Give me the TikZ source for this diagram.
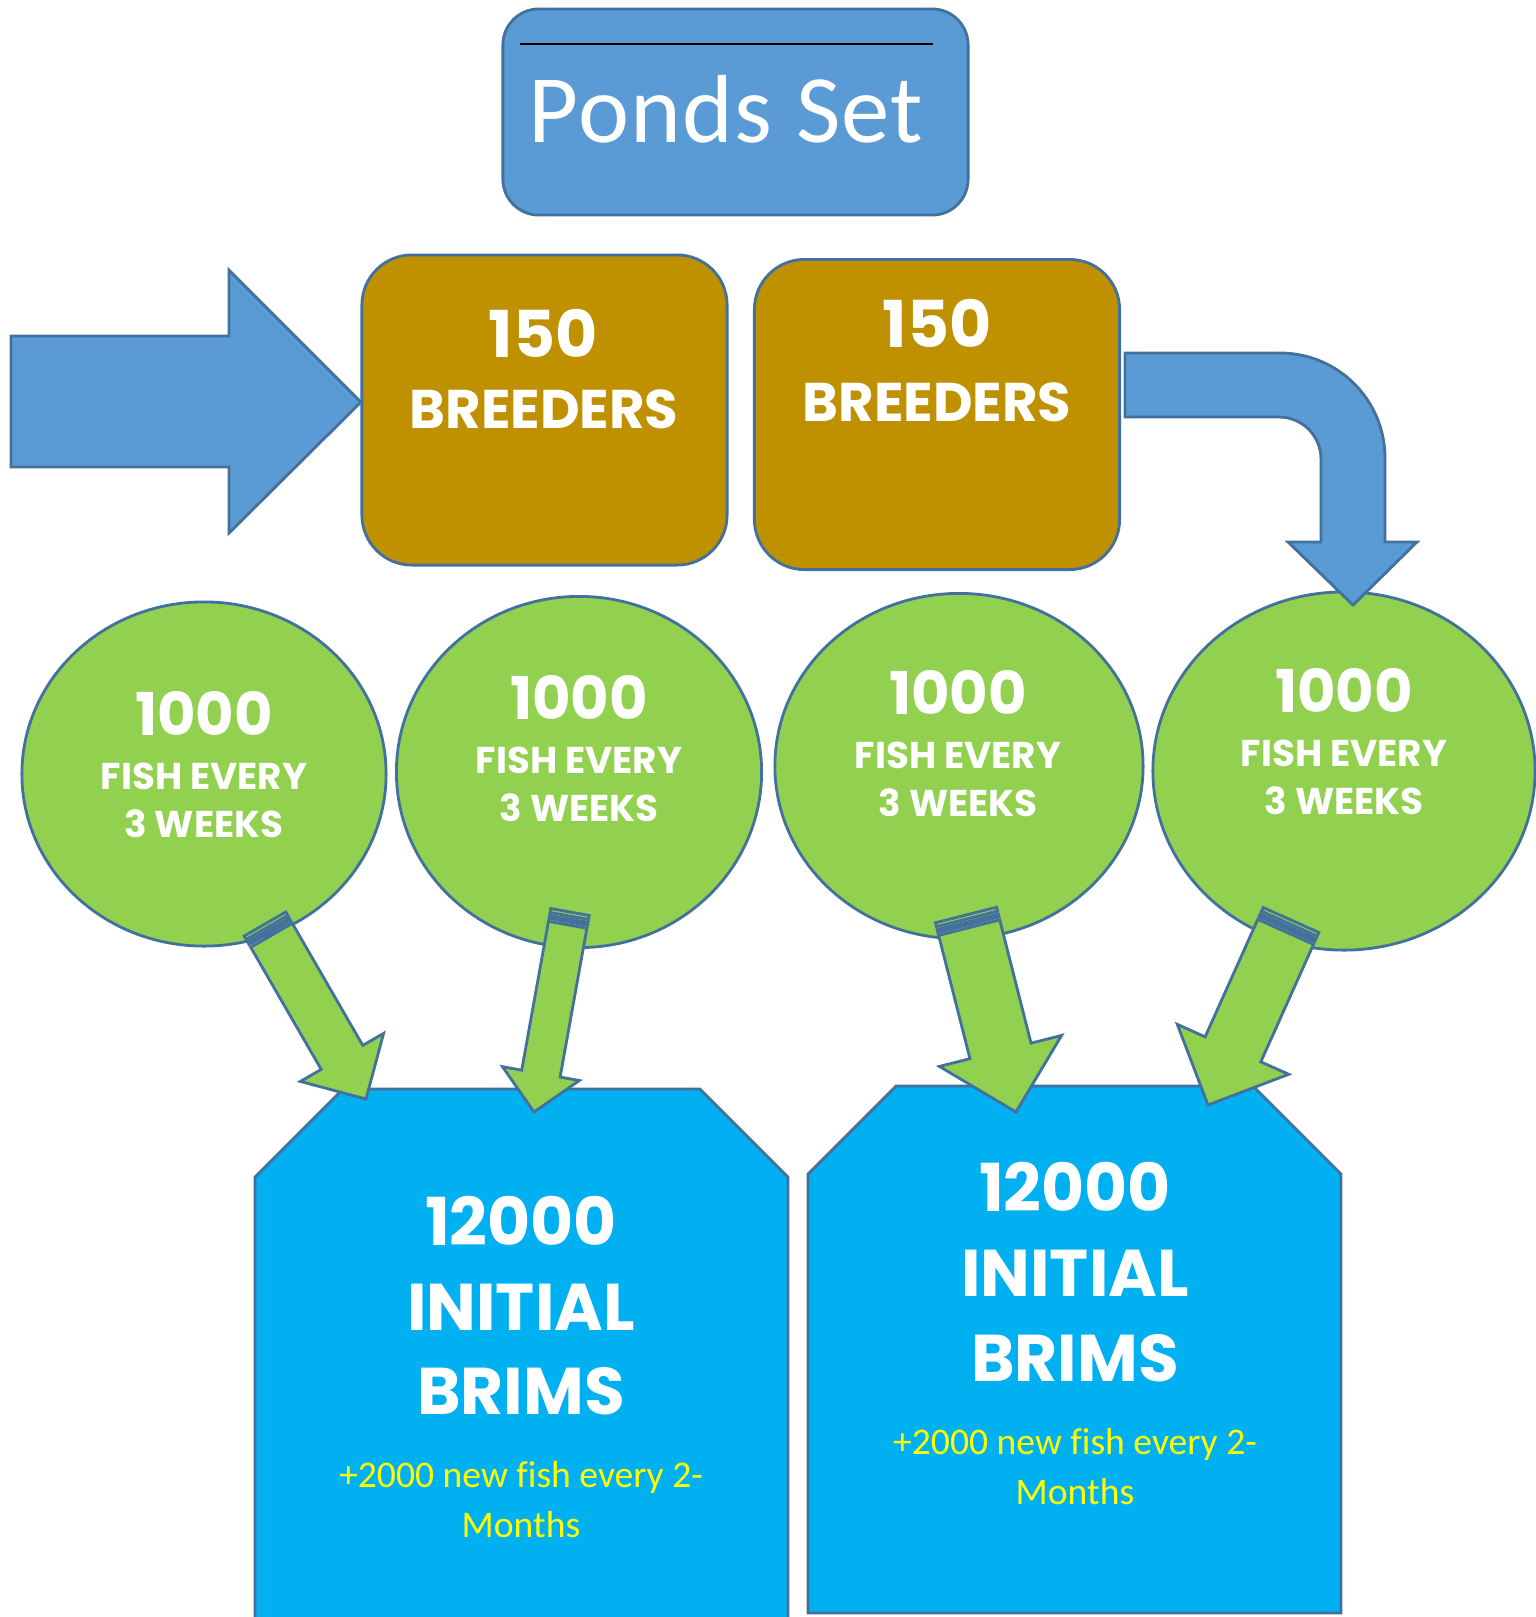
\documentclass[tikz,border=0pt]{standalone}
\usepackage{fontspec}
\usepackage{xcolor}
\usetikzlibrary{calc, shapes.geometric}
\newfontfamily\titlefont{Carlito}[LetterSpace=1.5]
\newfontfamily\notefont{Carlito}[Ligatures=NoCommon]
\newfontfamily\dispfont{Poppins}
\definecolor{pondblue}{HTML}{5B9BD5}
\definecolor{edgeblue}{HTML}{41719C}
\definecolor{breedgold}{HTML}{BF9000}
\definecolor{pondgreen}{HTML}{92D050}
\definecolor{brimcyan}{HTML}{00B0F0}
\definecolor{noteyellow}{HTML}{FFFF00}

\begin{document}
\begin{tikzpicture}[
  x=0.01cm, y=-0.01cm,
  outline/.style={draw=edgeblue, line width=0.8pt},
  titlebox/.style={outline, fill=pondblue, rounded corners=0.36cm, minimum width=4.65cm, minimum height=2.06cm, inner sep=0pt},
  breedbox/.style={outline, fill=breedgold, rounded corners=0.5cm, minimum width=3.65cm, minimum height=3.1cm, inner sep=0pt},
  pond/.style={outline, fill=pondgreen, ellipse, inner sep=0pt},
  brimbox/.style={outline, fill=brimcyan, line join=miter},
  bigarrow/.style={outline, fill=pondblue, line join=miter},
  fisharrow/.style={outline, fill=pondgreen, line join=miter},
  titletxt/.style={anchor=base, inner sep=0pt, text=white, font=\titlefont\fontsize{27.5}{30}\selectfont},
  breednum/.style={anchor=base, inner sep=0pt, text=white, font=\dispfont\bfseries\fontsize{18.4}{20}\selectfont},
  breedlbl/.style={anchor=base, inner sep=0pt, text=white, font=\dispfont\bfseries\fontsize{15.5}{17}\selectfont},
  pondnum/.style={anchor=base, inner sep=0pt, text=white, font=\dispfont\bfseries\fontsize{16.8}{18}\selectfont},
  pondlbl/.style={anchor=base, inner sep=0pt, text=white, font=\dispfont\bfseries\fontsize{10.6}{12}\selectfont},
  brimtxt/.style={anchor=base, inner sep=0pt, text=white, font=\dispfont\bfseries\fontsize{18.8}{20}\selectfont},
  notetxt/.style={anchor=base, inner sep=0pt, text=noteyellow, font=\notefont\fontsize{10.7}{13}\selectfont}
]
\fill[white] (0,0) rectangle (1536,1617);
\useasboundingbox (0,0) rectangle (1536,1617);
\clip (0,0) rectangle (1536,1617);

% title
\node[titlebox] (title) at (735.5,112) {};
\draw[line width=0.6pt] (520,44) -- (933,44);
\node[titletxt] (titletext) at (726,142) {Ponds Set};

% breeder ponds
\node[breedbox] (breed1) at (544.5,410) {};
\node[breedbox] (breed2) at (937,414.5) {};

% fry ponds
\node[pond, minimum width=3.64cm, minimum height=3.44cm] (pond1) at (204,774) {};
\node[pond, minimum width=3.65cm, minimum height=3.51cm] (pond2) at (579,772) {};
\node[pond, minimum width=3.68cm, minimum height=3.45cm] (pond3) at (959,766) {};
\node[pond, minimum width=3.82cm, minimum height=3.58cm] (pond4) at (1344,771) {};

% grow-out tanks
\draw[brimbox] (255,1700) -- (255,1177) -- (343,1089) -- (700,1089) -- (788,1177) -- (788,1700) -- cycle;
\draw[brimbox] (808,1613) -- (808,1174) -- (896,1086) -- (1253,1086) -- (1341,1174) -- (1341,1613) -- cycle;

% blue arrows
\draw[bigarrow] (11,336) -- (229,336) -- (229,270) -- (361,402) -- (229,533) -- (229,467) -- (11,467) -- cycle;
\draw[bigarrow] (1125,353) -- (1280,353) arc[start angle=-90, end angle=0, radius=105] -- (1385,542) -- (1417,542)
  -- (1353,605) -- (1288,542) -- (1321,542) -- (1321,459) arc[start angle=0, end angle=-90, radius=42] -- (1125,417) -- cycle;

% green arrows
\coordinate (tail1) at (265,924);  \coordinate (tip1) at (366,1099);
\coordinate (tail2) at (570,912);  \coordinate (tip2) at (534,1112);
\coordinate (tail3) at (966,915);  \coordinate (tip3) at (1016,1112);
\coordinate (tail4) at (1291,920); \coordinate (tip4) at (1208,1105);
\foreach \n/\w/\s in {1/0.24cm/0.48cm, 2/0.195cm/0.39cm, 3/0.315cm/0.63cm, 4/0.305cm/0.61cm} {
  \coordinate (sa) at ($(tail\n)!0.04cm!(tip\n)$);
  \coordinate (sb) at ($(tail\n)!0.07cm!(tip\n)$);
  \coordinate (sc) at ($(tail\n)!0.10cm!(tip\n)$);
  \coordinate (sd) at ($(tail\n)!0.13cm!(tip\n)$);
  \coordinate (hb) at ($(tip\n)!\s!(tail\n)$);
  \draw[fisharrow] ($(tail\n)!\w!90:(tip\n)$) -- ($(sa)!\w!90:(tip\n)$) -- ($(sa)!\w!-90:(tip\n)$) -- ($(tail\n)!\w!-90:(tip\n)$) -- cycle;
  \draw[fisharrow] ($(sb)!\w!90:(tip\n)$) -- ($(sc)!\w!90:(tip\n)$) -- ($(sc)!\w!-90:(tip\n)$) -- ($(sb)!\w!-90:(tip\n)$) -- cycle;
  \draw[fisharrow] ($(sd)!\w!90:(tip\n)$) -- ($(hb)!\w!90:(tip\n)$) -- ($(hb)!\s!90:(tip\n)$) -- (tip\n)
    -- ($(hb)!\s!-90:(tip\n)$) -- ($(hb)!\w!-90:(tip\n)$) -- ($(sd)!\w!-90:(tip\n)$) -- cycle;
}

% texts
\node[breednum] (count1) at (543,357) {150};
\node[breedlbl] (kind1) at (544,428) {BREEDERS};
\node[breednum] (count2) at (937,347) {150};
\node[breedlbl] (kind2) at (937,421) {BREEDERS};
\foreach \n/\x/\y in {1/204/735, 2/579/719, 3/958/714, 4/1344/712} {
  \node[pondnum] (fry\n) at (\x,\y) {1000};
  \node[pondlbl] (every\n) at (\x,\y+54) {FISH EVERY};
  \node[pondlbl] (weeks\n) at (\x,\y+102) {3 WEEKS};
}
\node[brimtxt] (brimnum1) at (521,1245) {12000};
\node[brimtxt] (brimini1) at (521,1330) {INITIAL};
\node[brimtxt] (brimname1) at (521,1414) {BRIMS};
\node[notetxt] (noteA1) at (521,1487) {+2000 new fish every 2-};
\node[notetxt] (noteB1) at (521,1537) {Months};
\node[brimtxt] (brimnum2) at (1075,1211) {12000};
\node[brimtxt] (brimini2) at (1075,1296) {INITIAL};
\node[brimtxt] (brimname2) at (1075,1381) {BRIMS};
\node[notetxt] (noteA2) at (1075,1454) {+2000 new fish every 2-};
\node[notetxt] (noteB2) at (1075,1504) {Months};
\end{tikzpicture}
\end{document}
